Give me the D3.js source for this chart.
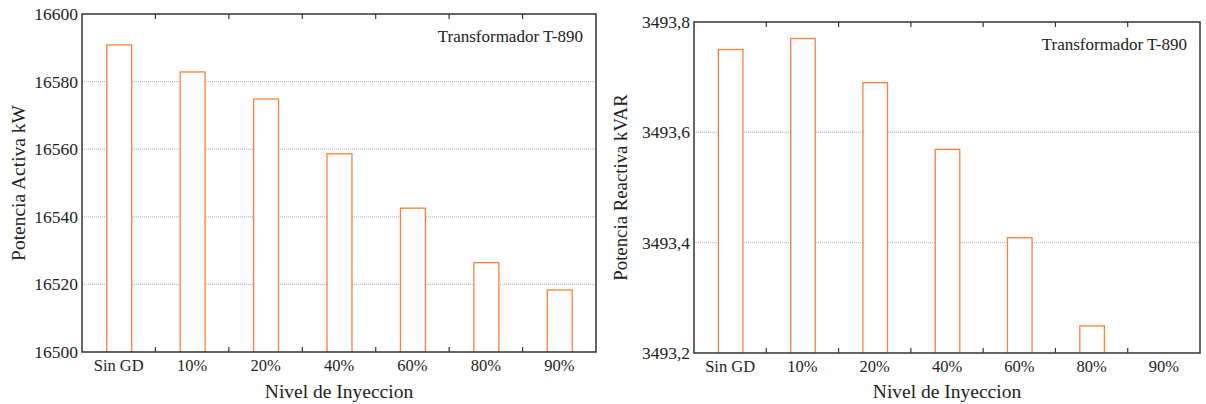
<!DOCTYPE html>
<html>
<head>
<meta charset="utf-8">
<script src="https://cdn.jsdelivr.net/npm/d3@7"></script>
<style>
  body { margin: 0; background: #fff; }
  svg text { font-family: "Liberation Serif", "Times New Roman", serif; fill: #222; }
</style>
</head>
<body>
<div id="chart"></div>
<script>
// Data
const categories = ["Sin GD", "10%", "20%", "40%", "60%", "80%", "90%"];
const activeKW = [16591, 16583, 16575, 16558.8, 16542.7, 16526.6, 16518.5];
const reactiveKVAR = [3493.751, 3493.771, 3493.691, 3493.570, 3493.410, 3493.250, 3493.15];
const activeTicks = [16500, 16520, 16540, 16560, 16580, 16600];
const reactiveTicks = [3493.2, 3493.4, 3493.6, 3493.8];
const panelLabel = "Transformador T-890";
const xTitle = "Nivel de Inyeccion";

const svg = d3.select("#chart")
  .append("svg")
  .attr("width", 1206)
  .attr("height", 404);

const barColor = "#ff7f3a";
const axisColor = "#333";

function drawPanel(opts) {
  const { left, right, top, bottom, values, ticks, fmt, yTitle, yTitleX, yTitleSize } = opts;

  const x = d3.scaleBand()
    .domain(categories)
    .range([left, right])
    .paddingInner(0.66)
    .paddingOuter(0.33);

  const y = d3.scaleLinear()
    .domain([ticks[0], ticks[ticks.length - 1]])
    .range([bottom, top]);

  const g = svg.append("g");

  // gridlines
  g.selectAll(".grid")
    .data(ticks.slice(1, -1))
    .enter()
    .append("line")
    .attr("x1", left)
    .attr("x2", right)
    .attr("y1", d => y(d))
    .attr("y2", d => y(d))
    .attr("stroke", "#b0b0b0")
    .attr("stroke-width", 1)
    .attr("stroke-dasharray", "1,1");

  // clip for bars
  const clipId = "clip" + left;
  g.append("clipPath").attr("id", clipId)
    .append("rect")
    .attr("x", left).attr("y", top)
    .attr("width", right - left).attr("height", bottom - top);

  // bars
  g.append("g")
    .attr("clip-path", `url(#${clipId})`)
    .selectAll("rect")
    .data(values)
    .enter()
    .append("rect")
    .attr("x", (d, i) => x(categories[i]) + 0.5)
    .attr("y", d => y(d) + 0.5)
    .attr("width", x.bandwidth())
    .attr("height", d => Math.max(0, y.range()[0] - y(d)))
    .attr("fill", "#fff")
    .attr("stroke", barColor)
    .attr("stroke-width", 1.3);

  // frame
  g.append("rect")
    .attr("x", left)
    .attr("y", top)
    .attr("width", right - left)
    .attr("height", bottom - top)
    .attr("fill", "none")
    .attr("stroke", axisColor)
    .attr("stroke-width", 1.5);

  // category boundary ticks (top and bottom, inward)
  const step = (right - left) / categories.length;
  const bounds = d3.range(1, categories.length).map(i => left + i * step);
  g.selectAll(".tb")
    .data(bounds)
    .enter()
    .append("line")
    .attr("x1", d => d).attr("x2", d => d)
    .attr("y1", bottom).attr("y2", bottom - 5)
    .attr("stroke", axisColor).attr("stroke-width", 1.2);
  g.selectAll(".tt")
    .data(bounds)
    .enter()
    .append("line")
    .attr("x1", d => d).attr("x2", d => d)
    .attr("y1", top).attr("y2", top + 5)
    .attr("stroke", axisColor).attr("stroke-width", 1.2);

  // x labels
  g.selectAll(".xl")
    .data(categories)
    .enter()
    .append("text")
    .attr("x", d => x(d) + x.bandwidth() / 2)
    .attr("y", bottom + 19)
    .attr("text-anchor", "middle")
    .attr("font-size", "16.5px")
    .text(d => d);

  // y labels
  g.selectAll(".yl")
    .data(ticks)
    .enter()
    .append("text")
    .attr("x", left - 4)
    .attr("y", d => y(d) + 6)
    .attr("text-anchor", "end")
    .attr("font-size", "17.5px")
    .text(d => fmt(d));

  // panel label
  g.append("text")
    .attr("x", right - 13)
    .attr("y", top + 28)
    .attr("text-anchor", "end")
    .attr("font-size", "17px")
    .text(panelLabel);

  // axis titles
  g.append("text")
    .attr("x", (left + right) / 2)
    .attr("y", 398)
    .attr("text-anchor", "middle")
    .attr("font-size", "19.5px")
    .text(xTitle);

  g.append("text")
    .attr("transform", `translate(${yTitleX},${(top + bottom) / 2}) rotate(-90)`)
    .attr("text-anchor", "middle")
    .attr("font-size", yTitleSize)
    .text(yTitle);
}

drawPanel({
  left: 82, right: 596, top: 14, bottom: 352,
  values: activeKW, ticks: activeTicks,
  fmt: d => d3.format("d")(d),
  yTitle: "Potencia Activa kW", yTitleX: 25, yTitleSize: "19.5px"
});

drawPanel({
  left: 694, right: 1200, top: 22, bottom: 353,
  values: reactiveKVAR, ticks: reactiveTicks,
  fmt: d => d.toFixed(1).replace(".", ","),
  yTitle: "Potencia Reactiva kVAR", yTitleX: 627, yTitleSize: "18.8px"
});
</script>
</body>
</html>
